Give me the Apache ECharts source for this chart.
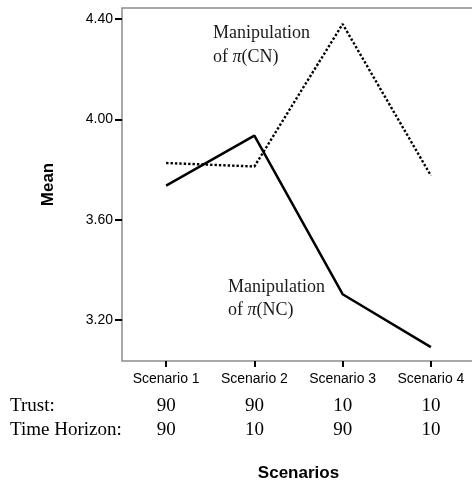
<!DOCTYPE html>
<html>
<head>
<meta charset="utf-8">
<script src="https://cdn.jsdelivr.net/npm/echarts@6/dist/echarts.min.js"></script>
<style>html,body{margin:0;padding:0;background:#fff}#c{width:472px;height:480px}</style>
</head>
<body>
<div id="c"></div>
<script>
var categories = ['Scenario 1', 'Scenario 2', 'Scenario 3', 'Scenario 4'];
var trust = ['90', '90', '10', '10'];
var timeHorizon = ['90', '10', '90', '10'];
var piNC = [3.736, 3.935, 3.303, 3.092];
var piCN = [3.826, 3.812, 4.380, 3.776];
var yTicks = [3.2, 3.6, 4.0, 4.4];

var chart = echarts.init(document.getElementById('c'));
var serif = 'Liberation Serif';
var sans = 'Liberation Sans';
function hiddenAxis(data, margin) {
  return {
    type: 'category', data: data, gridIndex: 0, position: 'bottom',
    axisLine: {show: false}, axisTick: {show: false}, splitLine: {show: false},
    axisLabel: {margin: margin, color: '#000', fontFamily: serif, fontSize: 19, interval: 0}
  };
}
chart.setOption({
  animation: false,
  backgroundColor: '#fff',
  grid: {left: 122, top: 8, width: 353, height: 353, show: true, borderColor: '#8c8c8c', borderWidth: 1.5,
    containLabel: false, outerBoundsMode: 'none'},
  xAxis: [
    {
      type: 'category', data: categories, boundaryGap: true,
      name: 'Scenarios', nameLocation: 'middle', nameGap: 104,
      nameTextStyle: {fontFamily: sans, fontWeight: 'bold', fontSize: 17, color: '#000'},
      axisLine: {show: false},
      axisTick: {show: true, alignWithLabel: true, length: 6, lineStyle: {color: '#000', width: 2}},
      axisLabel: {margin: 11, color: '#000', fontFamily: sans, fontSize: 14, interval: 0},
      splitLine: {show: false}
    },
    hiddenAxis(trust, 36),
    hiddenAxis(timeHorizon, 60)
  ],
  yAxis: {
    type: 'value', min: 3.0368, max: 4.4438,
    name: 'Mean', nameLocation: 'middle', nameGap: 65, nameRotate: 90,
    nameTextStyle: {fontFamily: sans, fontWeight: 'bold', fontSize: 17, color: '#000'},
    axisLine: {show: false},
    axisTick: {show: true, customValues: yTicks, length: 7, lineStyle: {color: '#000', width: 2}},
    axisLabel: {customValues: yTicks, margin: 9, color: '#000', fontFamily: sans, fontSize: 14,
      formatter: function (v) { return v.toFixed(2); }},
    splitLine: {show: false}
  },
  series: [
    {type: 'line', name: 'NC', data: piNC, showSymbol: false, symbol: 'none',
      lineStyle: {color: '#000', width: 2.5, type: 'solid'}},
    {type: 'line', name: 'CN', data: piCN, showSymbol: false, symbol: 'none',
      lineStyle: {color: '#000', width: 2.4, type: [2.4, 2]}}
  ],
  graphic: [
    {type: 'text', left: 213, top: 21, style: {
      text: 'Manipulation\n{a|of }{p|π}{a|(CN)}', fontFamily: serif, fontSize: 18, lineHeight: 24, fill: '#1a1a1a',
      rich: {a: {fontFamily: serif, fontSize: 18, lineHeight: 24, fill: '#1a1a1a'}, p: {fontFamily: serif, fontSize: 18, fontStyle: 'italic', lineHeight: 24, fill: '#1a1a1a'}}}},
    {type: 'text', left: 228, top: 276, style: {
      text: 'Manipulation\n{a|of }{p|π}{a|(NC)}', fontFamily: serif, fontSize: 18, lineHeight: 23, fill: '#1a1a1a',
      rich: {a: {fontFamily: serif, fontSize: 18, lineHeight: 23, fill: '#1a1a1a'}, p: {fontFamily: serif, fontSize: 18, fontStyle: 'italic', lineHeight: 23, fill: '#1a1a1a'}}}},
    {type: 'text', left: 10, top: 397, style: {text: 'Trust:', fontFamily: serif, fontSize: 19, fill: '#000'}},
    {type: 'text', left: 10, top: 421, style: {text: 'Time Horizon:', fontFamily: serif, fontSize: 19, fill: '#000'}}
  ]
});
</script>
</body>
</html>
